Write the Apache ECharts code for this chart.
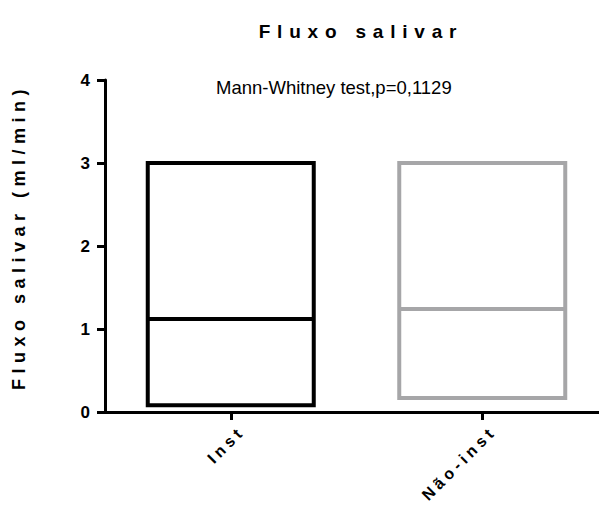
<!DOCTYPE html>
<html>
<head>
<meta charset="utf-8">
<script src="https://cdn.jsdelivr.net/npm/echarts@6/dist/echarts.min.js"></script>
<style>
  html, body { margin: 0; padding: 0; background: #ffffff; }
  #chart { width: 599px; height: 509px; }
</style>
</head>
<body>
<div id="chart"></div>
<script>
// Groups and their box summaries (ml/min)
const categories = ['Inst', 'Não-inst'];
const minValues = [0.08, 0.17];
const medianValues = [1.12, 1.24];
const maxValues = [3.0, 3.0];
const boxColors = ['#000000', '#a6a6a8'];

const chartTitle = 'Fluxo salivar';
const yAxisTitle = 'Fluxo salivar (ml/min)';
const testNote = 'Mann-Whitney test,p=0,1129';

const FONT = '"Liberation Sans", Arial, Helvetica, sans-serif';

// Wide tracking on the bold labels
const tracking = {};
tracking[chartTitle] = 6.8;
tracking[yAxisTitle] = 5.5;
tracking[categories[0]] = 4.2;
tracking[categories[1]] = 4.2;

const boxData = categories.map((c, i) => ({
  value: [minValues[i], minValues[i], medianValues[i], maxValues[i], maxValues[i]],
  itemStyle: { borderColor: boxColors[i], color: '#ffffff' }
}));

const chart = echarts.init(document.getElementById('chart'), null, { renderer: 'svg' });

chart.setOption({
  animation: false,
  backgroundColor: '#ffffff',
  title: {
    text: chartTitle,
    left: 356,
    top: 17,
    textAlign: 'center',
    textStyle: { fontFamily: FONT, fontWeight: 'bold', fontSize: 19, color: '#000' }
  },
  grid: { left: 105, top: 80, width: 503, height: 332, outerBoundsMode: 'none' },
  xAxis: {
    type: 'category',
    data: categories,
    axisLine: { lineStyle: { color: '#000', width: 3 } },
    axisTick: { show: true, interval: 0, alignWithLabel: true, length: 8, lineStyle: { color: '#000', width: 3 } },
    axisLabel: {
      interval: 0,
      rotate: 45,
      margin: 28,
      padding: [0, -16, 0, 0],
      fontFamily: FONT,
      fontWeight: 'bold',
      fontSize: 16,
      color: '#000'
    },
    splitLine: { show: false }
  },
  yAxis: {
    type: 'value',
    min: 0,
    max: 4,
    interval: 1,
    name: yAxisTitle,
    nameLocation: 'middle',
    nameRotate: 90,
    nameGap: 77,
    nameTextStyle: { fontFamily: FONT, fontWeight: 'bold', fontSize: 18, color: '#000', padding: [0, 0, 0, 18] },
    axisLine: { show: true, lineStyle: { color: '#000', width: 3 } },
    axisTick: { show: true, length: 8, lineStyle: { color: '#000', width: 3 } },
    axisLabel: { margin: 15, fontFamily: FONT, fontWeight: 'bold', fontSize: 17, color: '#000' },
    splitLine: { show: false }
  },
  graphic: [{
    type: 'text',
    left: 216,
    top: 78,
    style: { text: testNote, font: 'normal 18.5px ' + FONT, fill: '#000' }
  }],
  series: [{
    type: 'boxplot',
    data: boxData,
    boxWidth: [166, 166],
    itemStyle: { borderWidth: 4, color: '#ffffff' },
    emphasis: { disabled: true }
  }]
});

function applyTracking() {
  document.querySelectorAll('#chart svg text').forEach(t => {
    const s = tracking[t.textContent];
    if (s) t.setAttribute('letter-spacing', s + 'px');
  });
}
chart.on('finished', applyTracking);
applyTracking();
setTimeout(applyTracking, 0);
</script>
</body>
</html>
